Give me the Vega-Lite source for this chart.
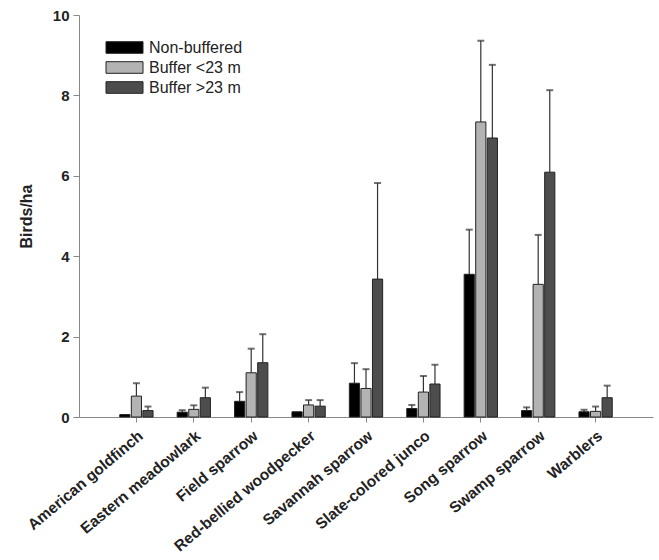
{
  "$schema": "https://vega.github.io/schema/vega-lite/v6.json",
  "width": 574,
  "height": 402,
  "autosize": {"type": "none"},
  "padding": {"left": 79, "top": 15, "right": 6, "bottom": 143},
  "background": "white",
  "config": {
    "view": {"stroke": null},
    "font": "Liberation Sans"
  },
  "data": {
    "values": [
      {"species": "American goldfinch", "group": "Non-buffered", "value": 0.06, "upper": null},
      {"species": "American goldfinch", "group": "Buffer <23 m", "value": 0.52, "upper": 0.84},
      {"species": "American goldfinch", "group": "Buffer >23 m", "value": 0.16, "upper": 0.26},
      {"species": "Eastern meadowlark", "group": "Non-buffered", "value": 0.12, "upper": 0.17},
      {"species": "Eastern meadowlark", "group": "Buffer <23 m", "value": 0.19, "upper": 0.29},
      {"species": "Eastern meadowlark", "group": "Buffer >23 m", "value": 0.48, "upper": 0.73},
      {"species": "Field sparrow", "group": "Non-buffered", "value": 0.39, "upper": 0.62},
      {"species": "Field sparrow", "group": "Buffer <23 m", "value": 1.1, "upper": 1.7},
      {"species": "Field sparrow", "group": "Buffer >23 m", "value": 1.35, "upper": 2.06},
      {"species": "Red-bellied woodpecker", "group": "Non-buffered", "value": 0.13, "upper": null},
      {"species": "Red-bellied woodpecker", "group": "Buffer <23 m", "value": 0.3, "upper": 0.42},
      {"species": "Red-bellied woodpecker", "group": "Buffer >23 m", "value": 0.27, "upper": 0.42},
      {"species": "Savannah sparrow", "group": "Non-buffered", "value": 0.84, "upper": 1.34},
      {"species": "Savannah sparrow", "group": "Buffer <23 m", "value": 0.71, "upper": 1.19},
      {"species": "Savannah sparrow", "group": "Buffer >23 m", "value": 3.43, "upper": 5.82},
      {"species": "Slate-colored junco", "group": "Non-buffered", "value": 0.21, "upper": 0.3},
      {"species": "Slate-colored junco", "group": "Buffer <23 m", "value": 0.62, "upper": 1.02},
      {"species": "Slate-colored junco", "group": "Buffer >23 m", "value": 0.82, "upper": 1.3},
      {"species": "Song sparrow", "group": "Non-buffered", "value": 3.55, "upper": 4.66},
      {"species": "Song sparrow", "group": "Buffer <23 m", "value": 7.34, "upper": 9.36},
      {"species": "Song sparrow", "group": "Buffer >23 m", "value": 6.94, "upper": 8.76},
      {"species": "Swamp sparrow", "group": "Non-buffered", "value": 0.16, "upper": 0.24},
      {"species": "Swamp sparrow", "group": "Buffer <23 m", "value": 3.3, "upper": 4.53},
      {"species": "Swamp sparrow", "group": "Buffer >23 m", "value": 6.09, "upper": 8.13},
      {"species": "Warblers", "group": "Non-buffered", "value": 0.13, "upper": 0.18},
      {"species": "Warblers", "group": "Buffer <23 m", "value": 0.14, "upper": 0.26},
      {"species": "Warblers", "group": "Buffer >23 m", "value": 0.48, "upper": 0.78}
    ]
  },
  "encoding": {
    "x": {
      "field": "species",
      "type": "nominal",
      "sort": null,
      "scale": {"paddingInner": 0.42, "paddingOuter": 0.71},
      "axis": {
        "title": null,
        "labelAngle": -40,
        "labelAlign": "right",
        "labelBaseline": "top",
        "labelFontSize": 15.5,
        "labelFontWeight": "bold",
        "labelColor": "#222",
        "tickSize": 5,
        "tickColor": "#888",
        "domainColor": "#888",
        "labelPadding": 6,
        "labelDx": 6
      }
    },
    "xOffset": {
      "field": "group",
      "type": "nominal",
      "scale": {"domain": ["Non-buffered", "Buffer <23 m", "Buffer >23 m"], "paddingInner": 0.12, "paddingOuter": 0}
    }
  },
  "layer": [
    {
      "transform": [{"filter": "datum.upper != null"}],
      "mark": {"type": "rule", "color": "#333", "strokeWidth": 1.2},
      "encoding": {
        "y": {"field": "value", "type": "quantitative"},
        "y2": {"field": "upper"}
      }
    },
    {
      "transform": [{"filter": "datum.upper != null"}],
      "mark": {"type": "tick", "color": "#333", "size": 7, "thickness": 2},
      "encoding": {
        "y": {"field": "upper", "type": "quantitative"}
      }
    },
    {
      "mark": {"type": "bar", "stroke": "#222", "strokeWidth": 1},
      "encoding": {
        "y": {
          "field": "value",
          "type": "quantitative",
          "scale": {"domain": [0, 10], "nice": false},
          "axis": {
            "title": "Birds/ha",
            "titleFontSize": 16,
            "titleFontWeight": "bold",
            "titleColor": "#222",
            "titlePadding": 18,
            "values": [0, 2, 4, 6, 8, 10],
            "labelFontSize": 15,
            "labelFontWeight": "bold",
            "labelColor": "#222",
            "labelPadding": 4,
            "tickSize": 6,
            "tickColor": "#888",
            "domainColor": "#888",
            "grid": false
          }
        },
        "color": {
          "field": "group",
          "type": "nominal",
          "scale": {
            "domain": ["Non-buffered", "Buffer <23 m", "Buffer >23 m"],
            "range": ["#000000", "#b3b3b3", "#4d4d4d"]
          },
          "legend": {
            "title": null,
            "orient": "none",
            "legendX": 35,
            "legendY": 22,
            "symbolType": "M-1.85,-0.58H1.85V0.58H-1.85Z",
            "symbolSize": 400,
            "symbolStrokeColor": "#222",
            "symbolStrokeWidth": 1,
            "labelFontSize": 16,
            "labelColor": "#222",
            "labelOffset": 14,
            "rowPadding": 1
          }
        }
      }
    }
  ]
}
